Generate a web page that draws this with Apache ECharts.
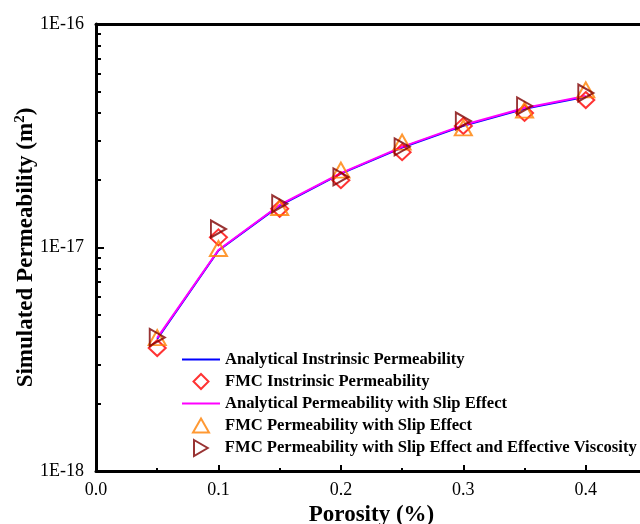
<!DOCTYPE html>
<html>
<head>
<meta charset="utf-8">
<script src="https://cdn.jsdelivr.net/npm/echarts@6/dist/echarts.min.js"></script>
<style>
  html, body { margin: 0; padding: 0; background: #fff; }
  #chart { width: 640px; height: 524px; }
</style>
</head>
<body>
<div id="chart"></div>
<script>
// porosity values (x)
const porosity = [0.05, 0.10, 0.15, 0.20, 0.25, 0.30, 0.35, 0.40]
// permeability, m^2
const analyticalIntrinsic = [3.90e-18, 9.70e-18, 1.54e-17, 2.14e-17, 2.80e-17, 3.50e-17, 4.18e-17, 4.73e-17]
const fmcIntrinsic = [3.55e-18, 1.11e-17, 1.49e-17, 2.00e-17, 2.67e-17, 3.50e-17, 4.00e-17, 4.57e-17]
const analyticalSlip = [3.94e-18, 9.75e-18, 1.55e-17, 2.15e-17, 2.82e-17, 3.53e-17, 4.21e-17, 4.76e-17]
const fmcSlip = [3.95e-18, 9.90e-18, 1.51e-17, 2.22e-17, 2.96e-17, 3.43e-17, 4.12e-17, 5.07e-17]
const fmcSlipVisc = [3.96e-18, 1.21e-17, 1.57e-17, 2.07e-17, 2.82e-17, 3.68e-17, 4.30e-17, 4.91e-17]

const minorY = [2e-18, 3e-18, 4e-18, 5e-18, 6e-18, 7e-18, 8e-18, 9e-18,
  2e-17, 3e-17, 4e-17, 5e-17, 6e-17, 7e-17, 8e-17, 9e-17]

const names = [
  'Analytical Instrinsic Permeability',
  'FMC Instrinsic Permeability',
  'Analytical Permeability with Slip Effect',
  'FMC Permeability with Slip Effect',
  'FMC Permeability with Slip Effect and Effective Viscosity'
]

const pairs = ys => porosity.map((x, i) => [x, ys[i]])

const serif = 'Liberation Serif'
const rightTri = 'path://M0,0L12,7L0,14Z'

// one legend per row so line icons and marker icons can differ in size
const legendText = { fontFamily: serif, fontWeight: 'bold', fontSize: 16.6, color: '#000' }
const lineLegend = (name, top) => ({
  orient: 'vertical', left: 182, top: top, padding: 0,
  icon: 'rect', itemWidth: 38, itemHeight: 2,
  textStyle: legendText, data: [name]
})
const markLegend = (name, top, icon, w, h) => ({
  orient: 'vertical', left: 200 - w / 2, top: top, padding: 0,
  icon: icon, itemWidth: w, itemHeight: h,
  textStyle: Object.assign({}, legendText, { padding: [0, 0, 0, 225 - (200 + w / 2) - 6] }),
  data: [name]
})

const chart = echarts.init(document.getElementById('chart'))

chart.setOption({
  animation: false,
  textStyle: { fontFamily: serif },
  grid: { left: 96, top: 24, width: 551, height: 447, outerBoundsMode: 'none', containLabel: false },
  legend: [
    lineLegend(names[0], 351),
    markLegend(names[1], 373, 'diamond', 15, 15),
    lineLegend(names[2], 395),
    markLegend(names[3], 417, 'triangle', 16, 14),
    markLegend(names[4], 439, rightTri, 14, 16)
  ],
  xAxis: [{
    type: 'value',
    min: 0,
    max: 0.45,
    interval: 0.1,
    name: 'Porosity (%)',
    nameLocation: 'middle',
    nameGap: 32,
    nameTextStyle: { fontFamily: serif, fontWeight: 'bold', fontSize: 23, color: '#000' },
    axisLine: { lineStyle: { color: '#000', width: 3 } },
    axisTick: { inside: true, length: 6, lineStyle: { width: 2, color: '#000' } },
    minorTick: { show: true, splitNumber: 2, length: 3, lineStyle: { width: 2, color: '#000' } },
    axisLabel: { fontFamily: serif, fontSize: 18, color: '#000', margin: 10, showMaxLabel: false,
      formatter: v => v.toFixed(1) },
    splitLine: { show: false }
  }, {
    type: 'value',
    position: 'top',
    min: 0,
    max: 0.45,
    axisLine: { show: true, lineStyle: { color: '#000', width: 3 } },
    axisTick: { show: false },
    axisLabel: { show: false },
    splitLine: { show: false }
  }],
  yAxis: [{
    type: 'log',
    logBase: 10,
    min: 1e-18,
    max: 1e-16,
    position: 'left',
    name: 'Simulated Permeability (m{sup|2})',
    nameLocation: 'middle',
    nameGap: 57,
    nameMoveOverlap: false,
    nameTextStyle: {
      fontFamily: serif, fontWeight: 'bold', fontSize: 23, color: '#000',
      rich: { sup: { fontFamily: serif, fontWeight: 'bold', fontSize: 15, color: '#000', verticalAlign: 'bottom', padding: [0, 0, 11, 0] } }
    },
    axisLine: { show: true, lineStyle: { color: '#000', width: 3 } },
    axisTick: { inside: true, length: 8, lineStyle: { width: 2, color: '#000' } },
    axisLabel: { fontFamily: serif, fontSize: 18, color: '#000', margin: 12,
      formatter: v => '1E' + Math.round(Math.log10(v)) },
    splitLine: { show: false }
  }, {
    type: 'log',
    logBase: 10,
    min: 1e-18,
    max: 1e-16,
    position: 'left',
    offset: 0,
    axisLine: { show: false },
    axisTick: { show: true, inside: true, length: 5, customValues: minorY, lineStyle: { width: 2, color: '#000' } },
    axisLabel: { show: false },
    splitLine: { show: false }
  }],
  series: [{
    name: names[0],
    type: 'line',
    data: pairs(analyticalIntrinsic),
    symbol: 'none',
    z: 1,
    lineStyle: { color: '#0000ff', width: 2 },
    itemStyle: { color: '#0000ff' }
  }, {
    name: names[1],
    type: 'scatter',
    data: pairs(fmcIntrinsic),
    symbol: 'diamond',
    symbolSize: [17, 16],
    z: 3,
    itemStyle: { color: 'transparent', borderColor: '#ff0000', borderWidth: 2 }
  }, {
    name: names[2],
    type: 'line',
    data: pairs(analyticalSlip),
    symbol: 'none',
    z: 2,
    lineStyle: { color: '#ff00ff', width: 2 },
    itemStyle: { color: '#ff00ff' }
  }, {
    name: names[3],
    type: 'scatter',
    data: pairs(fmcSlip),
    symbol: 'triangle',
    symbolSize: [17, 15],
    z: 4,
    itemStyle: { color: 'transparent', borderColor: '#ff8000', borderWidth: 2 }
  }, {
    name: names[4],
    type: 'scatter',
    data: pairs(fmcSlipVisc),
    symbol: rightTri,
    symbolSize: [15, 17],
    z: 5,
    itemStyle: { color: 'transparent', borderColor: '#800000', borderWidth: 2 }
  }]
})
</script>
</body>
</html>
